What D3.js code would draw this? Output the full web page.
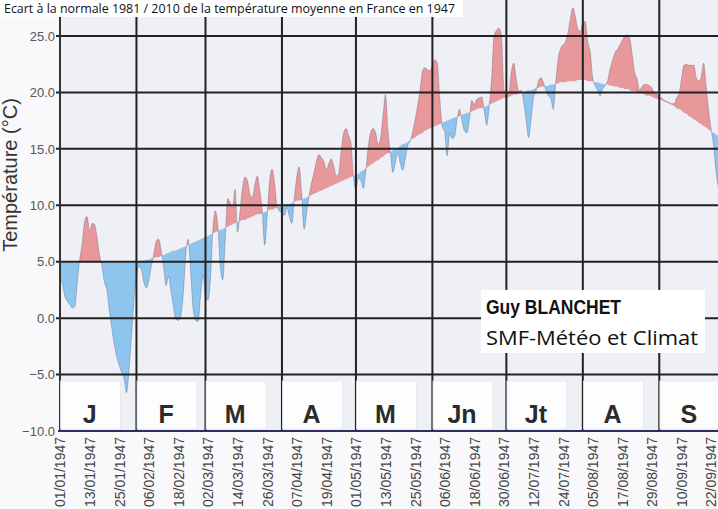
<!DOCTYPE html>
<html>
<head>
<meta charset="utf-8">
<script src="https://cdn.jsdelivr.net/npm/d3@7"></script>
<style>
  html, body { margin: 0; padding: 0; background: #f9f9fb; }
  svg { display: block; }
</style>
</head>
<body>
<svg id="chart" width="718" height="509"></svg>
<script>
// Daily mean temperature in France, 1947, and the 1981-2010 normal (°C)
const startDate = "1947-01-01";
const endDate = "1947-09-24";

const temperature = [
  3.5, 3.0, 1.9, 1.5, 1.2, 0.9, 1.0, 3.1, 5.2, 6.6,
  8.6, 9.0, 7.7, 8.4, 8.3, 7.2, 5.6, 4.6, 3.2, 2.5,
  0.7, -0.9, -2.3, -3.4, -4.2, -4.8, -5.4, -6.6, -4.6, -1.6,
  1.6, 3.7, 4.6, 4.3, 3.2, 2.7, 3.3, 4.6, 5.6, 6.8,
  7.0, 6.0, 4.5, 2.9, 3.7, 2.4, 1.0, -0.1, -0.2, 0.2,
  2.2, 5.6, 7.0, 4.0, 0.8, -0.2, -0.3, 2.0, 3.8, 1.9,
  1.6, 3.5, 7.9, 9.5, 8.2, 4.6, 3.4, 7.0, 10.6, 10.2,
  9.8, 11.4, 7.6, 9.5, 11.5, 12.5, 12.2, 11.0, 10.7, 11.8,
  12.6, 11.3, 9.5, 6.5, 9.0, 12.2, 13.2, 12.0, 9.9, 9.5,
  9.3, 9.1, 9.8, 9.0, 8.4, 10.5, 12.5, 13.4, 11.0, 7.9,
  9.3, 10.8, 12.0, 12.9, 13.9, 14.5, 14.2, 13.9, 13.1, 13.7,
  14.1, 13.5, 12.6, 12.8, 14.8, 16.4, 16.8, 16.2, 15.5, 12.5,
  11.4, 12.4, 12.2, 11.5, 13.0, 15.2, 16.5, 16.8, 16.4, 15.4,
  16.0, 18.0, 19.8, 16.6, 14.6, 12.9, 13.8, 14.6, 13.7, 13.1,
  14.1, 15.3, 15.7, 16.5, 17.6, 18.8, 20.2, 21.9, 22.2, 22.0,
  21.9, 22.4, 22.9, 22.6, 19.5, 17.0, 16.5, 14.4, 16.4, 15.9,
  16.1, 17.6, 18.5, 17.5, 16.6, 16.4, 17.6, 19.3, 18.9, 19.4,
  19.5, 19.6, 18.4, 17.1, 18.7, 21.2, 25.0, 25.5, 25.7, 25.0,
  20.3, 19.8, 20.0, 21.8, 22.6, 21.2, 20.1, 20.2, 19.2, 17.6,
  16.0, 17.6, 19.5, 20.1, 21.0, 21.3, 20.9, 20.2, 19.7, 19.5,
  18.5, 20.8, 23.0, 23.9, 24.2, 24.5, 25.3, 26.6, 27.5, 26.7,
  25.6, 25.4, 26.2, 26.3, 24.5, 23.6, 21.3, 20.6, 20.2, 19.7,
  20.3, 20.6, 21.0, 22.0, 22.8, 23.5, 23.8, 24.2, 24.6, 25.0,
  25.1, 24.8, 23.4, 21.8, 21.2, 20.2, 20.5, 20.7, 20.7, 20.6,
  20.4, 20.0, 19.9, 19.6, 19.5, 19.3, 19.2, 19.1, 19.0, 19.0,
  19.5, 19.9, 21.2, 22.4, 22.5, 22.4, 22.4, 22.4, 21.3, 21.0,
  21.4, 22.6, 20.6, 18.4, 16.8, 15.3, 13.0, 11.5
];

const normale = [
  5.0, 5.0, 5.0, 5.0, 5.0, 5.0, 5.0, 5.0, 5.0, 5.0,
  5.0, 5.0, 5.0, 5.0, 5.0, 5.0, 5.0, 5.0, 5.0, 5.0,
  5.0, 5.0, 5.0, 5.0, 5.0, 5.0, 5.0, 5.0, 5.0, 5.0,
  5.0, 5.0, 5.0, 5.1, 5.1, 5.2, 5.2, 5.3, 5.3, 5.4,
  5.4, 5.5, 5.6, 5.7, 5.8, 5.9, 6.0, 6.0, 6.1, 6.2,
  6.3, 6.4, 6.5, 6.6, 6.7, 6.8, 6.9, 7.0, 7.1, 7.2,
  7.3, 7.4, 7.5, 7.6, 7.7, 7.8, 7.9, 8.0, 8.1, 8.2,
  8.3, 8.4, 8.5, 8.6, 8.7, 8.7, 8.8, 8.9, 9.0, 9.1,
  9.2, 9.2, 9.3, 9.4, 9.5, 9.6, 9.6, 9.7, 9.8, 9.9,
  9.9, 10.0, 10.1, 10.1, 10.2, 10.3, 10.4, 10.4, 10.5, 10.6,
  10.7, 10.8, 10.9, 11.0, 11.1, 11.2, 11.3, 11.4, 11.5, 11.6,
  11.7, 11.8, 11.9, 12.0, 12.1, 12.2, 12.3, 12.4, 12.5, 12.6,
  12.7, 12.8, 13.0, 13.1, 13.3, 13.4, 13.6, 13.7, 13.9, 14.0,
  14.2, 14.3, 14.5, 14.6, 14.7, 14.9, 15.0, 15.1, 15.3, 15.4,
  15.5, 15.6, 15.8, 15.9, 16.0, 16.2, 16.3, 16.4, 16.6, 16.7,
  16.8, 16.9, 17.0, 17.1, 17.2, 17.3, 17.4, 17.5, 17.6, 17.7,
  17.8, 17.8, 17.9, 18.0, 18.1, 18.2, 18.2, 18.3, 18.4, 18.5,
  18.6, 18.6, 18.7, 18.8, 18.9, 19.0, 19.1, 19.2, 19.3, 19.4,
  19.5, 19.5, 19.6, 19.7, 19.8, 19.8, 19.9, 20.0, 20.0, 20.1,
  20.2, 20.2, 20.3, 20.4, 20.4, 20.5, 20.5, 20.6, 20.6, 20.7,
  20.7, 20.8, 20.8, 20.9, 20.9, 20.9, 21.0, 21.0, 21.0, 21.0,
  21.1, 21.1, 21.1, 21.1, 21.0, 21.0, 21.0, 20.9, 20.9, 20.8,
  20.8, 20.7, 20.7, 20.6, 20.6, 20.5, 20.5, 20.4, 20.4, 20.3,
  20.3, 20.2, 20.1, 20.1, 20.0, 19.9, 19.9, 19.8, 19.7, 19.7,
  19.6, 19.5, 19.4, 19.4, 19.3, 19.2, 19.1, 19.0, 18.9, 18.8,
  18.6, 18.5, 18.4, 18.2, 18.1, 17.9, 17.8, 17.6, 17.5, 17.3,
  17.2, 17.0, 16.9, 16.7, 16.6, 16.4, 16.3, 16.1
];

const yTicks = [-10, -5, 0, 5, 10, 15, 20, 25];

const tickLabels = [
  "01/01/1947", "13/01/1947", "25/01/1947", "06/02/1947", "18/02/1947",
  "02/03/1947", "14/03/1947", "26/03/1947", "07/04/1947", "19/04/1947",
  "01/05/1947", "13/05/1947", "25/05/1947", "06/06/1947", "18/06/1947",
  "30/06/1947", "12/07/1947", "24/07/1947", "05/08/1947", "17/08/1947",
  "29/08/1947", "10/09/1947", "22/09/1947"
];

const monthStarts = [
  "1947-01-01", "1947-02-01", "1947-03-01", "1947-04-01", "1947-05-01",
  "1947-06-01", "1947-07-01", "1947-08-01", "1947-09-01"
];
const monthLetters = ["J", "F", "M", "A", "M", "Jn", "Jt", "A", "S"];

const title = "Ecart à la normale 1981 / 2010 de la température moyenne en France en 1947";
const yTitle = "Température (°C)";
const author = "Guy BLANCHET";
const affiliation = "SMF-Météo et Climat";

// ---------------------------------------------------------------------------
const W = 718, H = 509;
const plot = { left: 60, right: 718, top: 0, bottom: 431 };
const FONT = "'Liberation Sans', Arial, sans-serif";

const parseDay = d3.utcParse("%Y-%m-%d");
const parseLabel = d3.utcParse("%d/%m/%Y");
const t0 = parseDay(startDate);

const series = temperature.map((t, i) => ({
  date: d3.utcDay.offset(t0, i),
  t: t,
  n: normale[i]
}));

const x = d3.scaleUtc()
  .domain([t0, parseDay(endDate)])
  .range([plot.left, 716]);
const y = d3.scaleLinear()
  .domain([-10, 25])
  .range([plot.bottom, 36]);

const svg = d3.select("#chart");
const defs = svg.append("defs");

svg.append("rect").attr("width", W).attr("height", H).attr("fill", "#f9f9fb");
svg.append("rect")
  .attr("x", plot.left).attr("y", plot.top)
  .attr("width", plot.right - plot.left).attr("height", plot.bottom - plot.top)
  .attr("fill", "#eff0f6");

defs.append("clipPath").attr("id", "clip-plot")
  .append("rect")
  .attr("x", plot.left).attr("y", plot.top)
  .attr("width", plot.right - plot.left).attr("height", plot.bottom - plot.top);

const curve = d3.curveMonotoneX;

// Regions above / below the normal curve, used to split the fill colours
defs.append("clipPath").attr("id", "clip-above")
  .append("path")
  .attr("d", d3.area().curve(curve)
    .x(d => x(d.date)).y0(plot.top).y1(d => y(d.n))(series));
defs.append("clipPath").attr("id", "clip-below")
  .append("path")
  .attr("d", d3.area().curve(curve)
    .x(d => x(d.date)).y0(H).y1(d => y(d.n))(series));

const between = d3.area().curve(curve)
  .x(d => x(d.date)).y0(d => y(d.n)).y1(d => y(d.t));

const gData = svg.append("g").attr("clip-path", "url(#clip-plot)");
gData.append("g").attr("clip-path", "url(#clip-above)")
  .append("path").attr("d", between(series)).attr("fill", "#e8979b");
gData.append("g").attr("clip-path", "url(#clip-below)")
  .append("path").attr("d", between(series)).attr("fill", "#8ec5ee");
gData.append("path")
  .attr("d", d3.line().curve(curve).x(d => x(d.date)).y(d => y(d.t))(series))
  .attr("fill", "none")
  .attr("stroke", "rgba(70,70,100,0.35)")
  .attr("stroke-width", 0.9);

// Grid
const grid = svg.append("g").attr("stroke", "#222").attr("stroke-width", 2);
grid.selectAll("line.h")
  .data(yTicks.filter(v => v > -10))
  .join("line").attr("class", "h")
  .attr("x1", 56).attr("x2", plot.right)
  .attr("y1", d => y(d)).attr("y2", d => y(d));
grid.selectAll("line.v")
  .data(monthStarts.slice(1).map(parseDay))
  .join("line").attr("class", "v")
  .attr("x1", d => x(d)).attr("x2", d => x(d))
  .attr("y1", plot.top).attr("y2", plot.bottom);

// Left axis
const yAxis = svg.append("g")
  .attr("transform", `translate(${plot.left},0)`)
  .call(d3.axisLeft(y).tickValues(yTicks).tickFormat(d3.format(".1f"))
    .tickSize(0).tickPadding(5));
yAxis.select(".domain").remove();
yAxis.selectAll("text")
  .attr("font-family", FONT).attr("font-size", 13).attr("fill", "#555");
svg.append("line")
  .attr("x1", plot.left).attr("x2", plot.left)
  .attr("y1", 15).attr("y2", plot.bottom)
  .attr("stroke", "#333").attr("stroke-width", 2);

// Month labels on white tags
const monthDates = monthStarts.map(parseDay);
const tags = svg.append("g");
monthDates.forEach((d, i) => {
  const cx = x(d3.utcDay.offset(d, 12));
  tags.append("rect")
    .attr("x", cx - 29).attr("y", 381)
    .attr("width", 60).attr("height", 48)
    .attr("fill", "#fdfdfe")
    .attr("stroke", "#e4e5ec").attr("stroke-width", 0.8);
  tags.append("text")
    .attr("x", cx).attr("y", 423)
    .attr("text-anchor", "middle")
    .attr("font-family", FONT).attr("font-weight", "bold")
    .attr("font-size", 25).attr("fill", "#2b2b2b")
    .text(monthLetters[i]);
});

// Bottom axis
const xAxis = svg.append("g")
  .attr("transform", `translate(0,${plot.bottom})`)
  .call(d3.axisBottom(x).tickValues(tickLabels.map(parseLabel))
    .tickFormat(d3.utcFormat("%d/%m/%Y")).tickSize(0));
xAxis.select(".domain").remove();
xAxis.selectAll("text")
  .attr("transform", "rotate(-90)")
  .attr("text-anchor", "end")
  .attr("x", -6).attr("y", 0).attr("dy", "0.35em")
  .attr("font-family", FONT).attr("font-size", 14).attr("fill", "#444");
svg.append("line")
  .attr("x1", plot.left - 2).attr("x2", plot.right)
  .attr("y1", plot.bottom).attr("y2", plot.bottom)
  .attr("stroke", "#2c3060").attr("stroke-width", 2);

// Y axis title
svg.append("text")
  .attr("transform", `translate(17,175) rotate(-90)`)
  .attr("text-anchor", "middle")
  .attr("font-family", FONT).attr("font-size", 20).attr("fill", "#333")
  .text(yTitle);

// Author box
svg.append("rect")
  .attr("x", 481).attr("y", 290).attr("width", 224).attr("height", 63)
  .attr("fill", "#ffffff");
svg.append("text")
  .attr("x", 486).attr("y", 314)
  .attr("font-family", FONT).attr("font-weight", "bold")
  .attr("font-size", 19.5).attr("fill", "#111")
  .attr("textLength", 135).attr("lengthAdjust", "spacingAndGlyphs")
  .text(author);
svg.append("text")
  .attr("x", 486).attr("y", 345)
  .attr("font-family", "'Open Sans', sans-serif")
  .attr("font-size", 20).attr("fill", "#111")
  .attr("textLength", 212).attr("lengthAdjust", "spacingAndGlyphs")
  .text(affiliation);

// Title
svg.append("rect")
  .attr("x", 0).attr("y", 0).attr("width", 463).attr("height", 17)
  .attr("fill", "#ffffff");
svg.append("text")
  .attr("x", 4).attr("y", 12.5)
  .attr("font-family", "'Open Sans', sans-serif")
  .attr("font-size", 12.3).attr("fill", "#111")
  .attr("textLength", 451).attr("lengthAdjust", "spacingAndGlyphs")
  .text(title);
</script>
</body>
</html>
